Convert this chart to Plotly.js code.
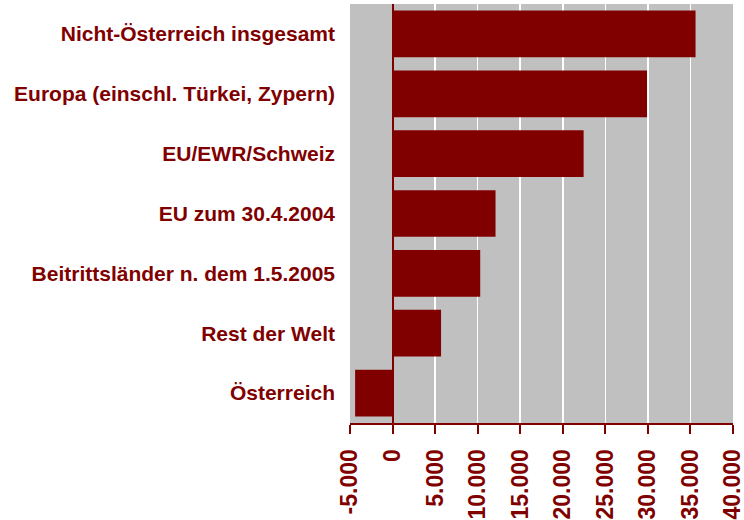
<!DOCTYPE html>
<html>
<head>
<meta charset="utf-8">
<script src="https://cdn.plot.ly/plotly-3.0.1.min.js"></script>
<style>html,body{margin:0;padding:0;background:#fff;}#chart{width:744px;height:520px;}</style>
</head>
<body>
<div id="chart"></div>
<script>
const categories = [
  "Nicht-Österreich insgesamt",
  "Europa (einschl. Türkei, Zypern)",
  "EU/EWR/Schweiz",
  "EU zum 30.4.2004",
  "Beitrittsländer n. dem 1.5.2005",
  "Rest der Welt",
  "Österreich"
];
const values = [35600, 29900, 22450, 12100, 10300, 5700, -4400];
const tickValues = [-5000, 0, 5000, 10000, 15000, 20000, 25000, 30000, 35000, 40000];
const tickLabels = ["-5.000", "0", "5.000", "10.000", "15.000", "20.000", "25.000", "30.000", "35.000", "40.000"];

const red = "#800000";
const trace = {
  type: "bar",
  orientation: "h",
  y: categories,
  x: values,
  marker: {color: red, line: {width: 0}},
  hoverinfo: "none"
};
const layout = {
  width: 744,
  height: 520,
  margin: {l: 350, r: 11, t: 4, b: 97, pad: 0},
  paper_bgcolor: "#ffffff",
  plot_bgcolor: "#c0c0c0",
  bargap: 0.22,
  showlegend: false,
  font: {family: "Liberation Sans, Arial, sans-serif", color: red},
  xaxis: {
    range: [-5000, 40000],
    tickmode: "array",
    tickvals: tickValues,
    ticktext: tickLabels,
    tickangle: -90,
    tickfont: {size: 23, color: red, family: "Liberation Sans, Arial, sans-serif", weight: "bold"},
    ticklabeloverflow: "allow",
    ticklabelstandoff: 6,
    showgrid: true,
    gridcolor: "#ffffff",
    gridwidth: 1.5,
    zeroline: true,
    zerolinecolor: red,
    zerolinewidth: 2,
    showline: true,
    linecolor: red,
    linewidth: 2,
    ticks: "outside",
    ticklen: 9,
    tickwidth: 2,
    tickcolor: red,
    fixedrange: true
  },
  yaxis: {
    autorange: "reversed",
    showgrid: false,
    zeroline: false,
    showline: false,
    ticks: "",
    ticklabelstandoff: 14,
    tickfont: {size: 21, color: red, family: "Liberation Sans, Arial, sans-serif", weight: "bold"},
    fixedrange: true
  }
};
Plotly.newPlot("chart", [trace], layout, {staticPlot: true, displayModeBar: false});
</script>
</body>
</html>
